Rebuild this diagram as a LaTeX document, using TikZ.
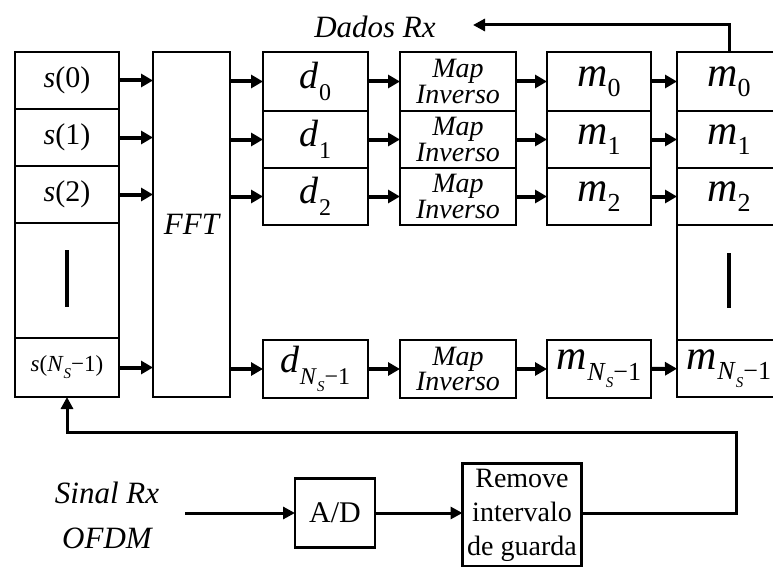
\documentclass[tikz,border=0pt]{standalone}
\usepackage{fontspec}
\setmainfont{Liberation Serif}
\usetikzlibrary{arrows.meta,positioning}
\newcommand{\subi}[2]{#1\raisebox{-0.3em}{\fontsize{24}{24}\selectfont #2}}
\newcommand{\subm}[2]{#1\raisebox{-0.25em}{\fontsize{26}{26}\selectfont #2}}
\newcommand{\nsub}{\textit{N}\raisebox{-0.3em}{\fontsize{15}{15}\selectfont\textit{S}}−1}
\tikzset{
  celda/.style={draw, line width=2.4pt, outer sep=0pt, inner sep=0pt,
    minimum width=#1, align=center, font=\fontsize{30}{30}\selectfont},
  celda/.default=104pt,
  dcelda/.style={celda=105pt, font=\fontsize{38}{38}\selectfont},
  mapcelda/.style={celda=116pt, font=\fontsize{28}{21}\selectfont\itshape},
  mcelda/.style={celda=104pt, font=\fontsize{42}{42}\selectfont},
  flecha/.style={-{Triangle[length=12pt, width=13pt]}, line width=4pt},
  flechafina/.style={-{Triangle[length=12pt, width=12pt]}, line width=3pt},
  linea/.style={line width=3pt},
  barra/.style={line width=4pt},
  etiqueta/.style={font=\fontsize{31}{45}\selectfont\itshape, align=center, inner sep=0pt},
}
\begin{document}
\begin{tikzpicture}[x=1pt, y=-1pt]
  \useasboundingbox (0,0) rectangle (773,567);
  \clip (0,0) rectangle (773,567);
  % columna s
  \node[celda, anchor=north west, minimum height=57pt] (s0) at (15,52) {\textit{s}(0)};
  \node[celda, below=0pt of s0, minimum height=57pt] (s1) {\textit{s}(1)};
  \node[celda, below=0pt of s1, minimum height=57pt] (s2) {\textit{s}(2)};
  \node[celda, below=0pt of s2, minimum height=115pt] (sdots) {};
  \node[celda, below=0pt of sdots, minimum height=59pt, font=\fontsize{23}{23}\selectfont] (sN) {\textit{s}(\nsub)};
  \draw[barra] ([yshift=-27pt]sdots.north) -- ([yshift=31pt]sdots.south);
  % FFT
  \node[celda=77pt, anchor=north west, minimum height=345pt, font=\fontsize{31}{31}\selectfont\itshape] (fft) at (153,52) {FFT};
  % columna d
  \node[dcelda, anchor=north west, minimum height=59pt] (d0) at (263,52) {\subi{\textit{d}}{0}};
  \node[dcelda, below=0pt of d0, minimum height=57pt] (d1) {\subi{\textit{d}}{1}};
  \node[dcelda, below=0pt of d1, minimum height=57pt] (d2) {\subi{\textit{d}}{2}};
  \node[dcelda, below=115pt of d2, minimum height=58pt] (dN) {\subi{\textit{d}}{\nsub}};
  % mapeamento inverso
  \node[mapcelda, right=32pt of d0, minimum height=59pt] (map0) {Map\\Inverso};
  \node[mapcelda, right=32pt of d1, minimum height=57pt] (map1) {Map\\Inverso};
  \node[mapcelda, right=32pt of d2, minimum height=57pt] (map2) {Map\\Inverso};
  \node[mapcelda, right=32pt of dN, minimum height=58pt] (mapN) {Map\\Inverso};
  % columna m
  \node[mcelda, right=31pt of map0, minimum height=59pt] (m0) {\subm{\textit{m}}{0}};
  \node[mcelda, right=31pt of map1, minimum height=57pt] (m1) {\subm{\textit{m}}{1}};
  \node[mcelda, right=31pt of map2, minimum height=57pt] (m2) {\subm{\textit{m}}{2}};
  \node[mcelda, right=31pt of mapN, minimum height=58pt] (mN) {\subm{\textit{m}}{\nsub}};
  % columna m paralela-serie
  \node[mcelda, right=26pt of m0, minimum height=59pt] (mm0) {\subm{\textit{m}}{0}};
  \node[mcelda, below=0pt of mm0, minimum height=57pt] (mm1) {\subm{\textit{m}}{1}};
  \node[mcelda, below=0pt of mm1, minimum height=57pt] (mm2) {\subm{\textit{m}}{2}};
  \node[mcelda, below=0pt of mm2, minimum height=115pt] (mmdots) {};
  \node[mcelda, below=0pt of mmdots, minimum height=57pt] (mmN) {\subm{\textit{m}}{\nsub}};
  \draw[barra] ([yshift=-28pt]mmdots.north) -- ([yshift=32pt]mmdots.south);
  % flechas
  \draw[flecha] (s0.east) -- (s0.east -| fft.west);
  \draw[flecha] (s1.east) -- (s1.east -| fft.west);
  \draw[flecha] (s2.east) -- (s2.east -| fft.west);
  \draw[flecha] (sN.east) -- (sN.east -| fft.west);
  \draw[flecha] (fft.east |- d0) -- (d0);
  \draw[flecha] (fft.east |- d1) -- (d1);
  \draw[flecha] (fft.east |- d2) -- (d2);
  \draw[flecha] (fft.east |- dN) -- (dN);
  \draw[flecha] (d0) -- (map0);
  \draw[flecha] (d1) -- (map1);
  \draw[flecha] (d2) -- (map2);
  \draw[flecha] (dN) -- (mapN);
  \draw[flecha] (map0) -- (m0);
  \draw[flecha] (map1) -- (m1);
  \draw[flecha] (map2) -- (m2);
  \draw[flecha] (mapN) -- (mN);
  \draw[flecha] (m0) -- (mm0);
  \draw[flecha] (m1) -- (mm1);
  \draw[flecha] (m2) -- (mm2);
  \draw[flecha] (mN) -- (mmN);
  % salida de datos
  \node[etiqueta] (dados) at (375,27) {Dados Rx};
  \coordinate (dadosfin) at (473,25);
  \draw[flechafina] (mm0.north) |- (dadosfin);
  % entrada
  \node[etiqueta] (sinal) at (107,515) {Sinal Rx\\OFDM};
  \node[celda=80pt, minimum height=69pt, font=\fontsize{30}{30}\selectfont] (ad) at (335,513) {A/D};
  \node[celda=119pt, minimum height=103pt, font=\fontsize{28}{34}\selectfont] (remove) at (522,515) {Remove\\intervalo\\de guarda};
  \draw[flechafina] ([xshift=26pt]sinal.east |- ad) -- (ad);
  \draw[flechafina] (ad) -- (ad -| remove.west);
  \coordinate (retorno) at (736,432);
  \draw[flechafina] (remove.east |- ad) -| (retorno) -| (sN.south);
\end{tikzpicture}
\end{document}
